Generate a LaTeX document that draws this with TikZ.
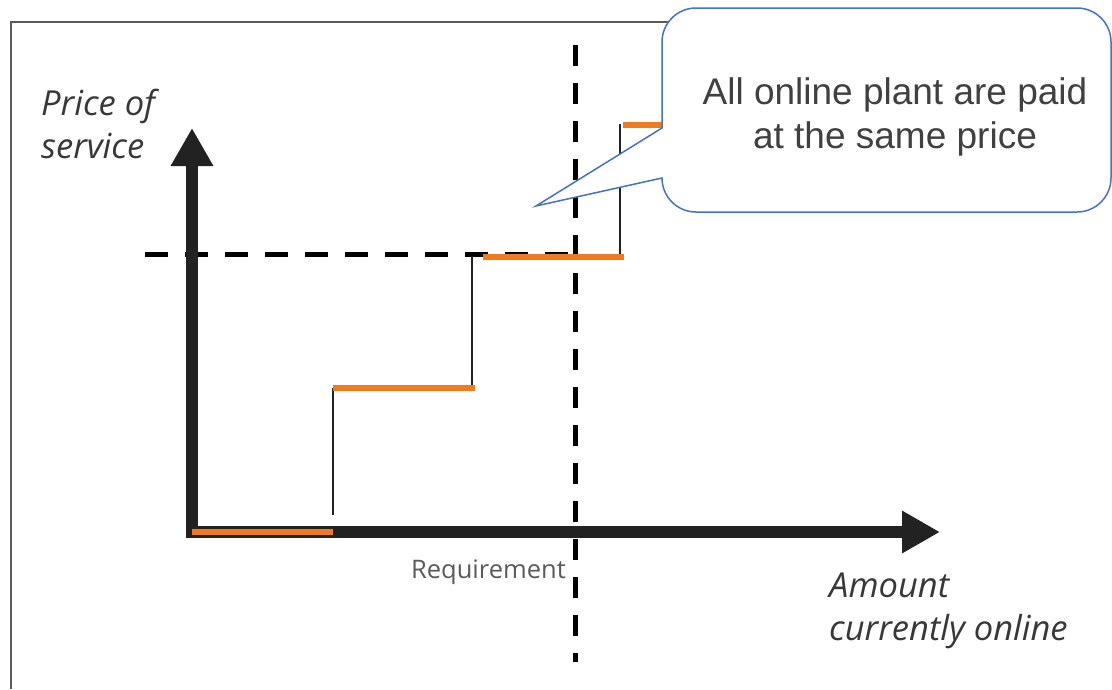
\documentclass[tikz,border=0pt]{standalone}
\definecolor{axisblack}{RGB}{34, 34, 34}
\definecolor{steporange}{RGB}{240, 122, 30}
\definecolor{calloutblue}{RGB}{68, 114, 196}
\definecolor{notegray}{RGB}{64, 64, 64}
\definecolor{framegray}{RGB}{90, 90, 90}
\usepackage{fontspec}
\setmainfont{Open Sans}
\newfontfamily\calloutfont{Liberation Sans}
\usepackage{tikz}
\usetikzlibrary{arrows.meta, positioning}

\begin{document}
\begin{tikzpicture}[x=1pt, y=-1pt,
  axis/.style={draw=axisblack, line width=12pt, -{Triangle[width=40pt, length=38pt]}},
  level/.style={draw=steporange, line width=6pt},
  riser/.style={draw=axisblack, line width=1.5pt},
  guide/.style={draw=black, line width=5pt, dash pattern=on #1 off 17pt},
  axislabel/.style={inner sep=0pt, align=left, text=axisblack!90, font=\fontsize{34.5}{43}\selectfont\itshape},
  note/.style={inner sep=0pt, align=center, text=notegray, font=\calloutfont\fontsize{37}{44}\selectfont},
]
  \useasboundingbox (0,0) rectangle (1112,689);
  \draw[framegray, line width=1.5pt] (11,689) -- (11,22) -- (700,22);

  \coordinate (origin) at (192,532);
  \coordinate (ytip) at (192,128);
  \coordinate (xtip) at (940,532);

  \draw[guide=23pt] (145,254) -- (575,254);
  \draw[guide=21pt] (575,45) -- (575,662);

  \draw[axis] (192,538) -- (ytip);
  \draw[axis] (186,532) -- (xtip);

  \draw[riser] (333,515) -- (333,388);
  \draw[riser] (472,388) -- (472,256);
  \draw[riser] (620,256) -- (620,124);
  \draw[level] (origin) -- (333,532);
  \draw[level] (333,388) -- (475,388);
  \draw[level] (483,257) -- (624,257);
  \draw[level] (623,125) -- (680,125);

  \node[axislabel, anchor=north west] (price) at (41,89) {Price of\\service};
  \node[axislabel, anchor=north west] (amount) at (829,573) {Amount\\currently online};
  \node[anchor=base east, inner sep=0pt, text=framegray, font=\fontsize{25.5}{30}\selectfont] (requirement) at (566,578) {Requirement};

  \draw[draw=calloutblue, fill=white, line width=1.5pt]
    (662,128) [rounded corners=34pt] -- (662,8) -- (1111,8) -- (1111,212) -- (662,212)
    [sharp corners] -- (662,178) -- (536,206) -- cycle;
  \node[note, anchor=north] (note) at (895,77) {All online plant are paid\\at the same price};
\end{tikzpicture}
\end{document}
